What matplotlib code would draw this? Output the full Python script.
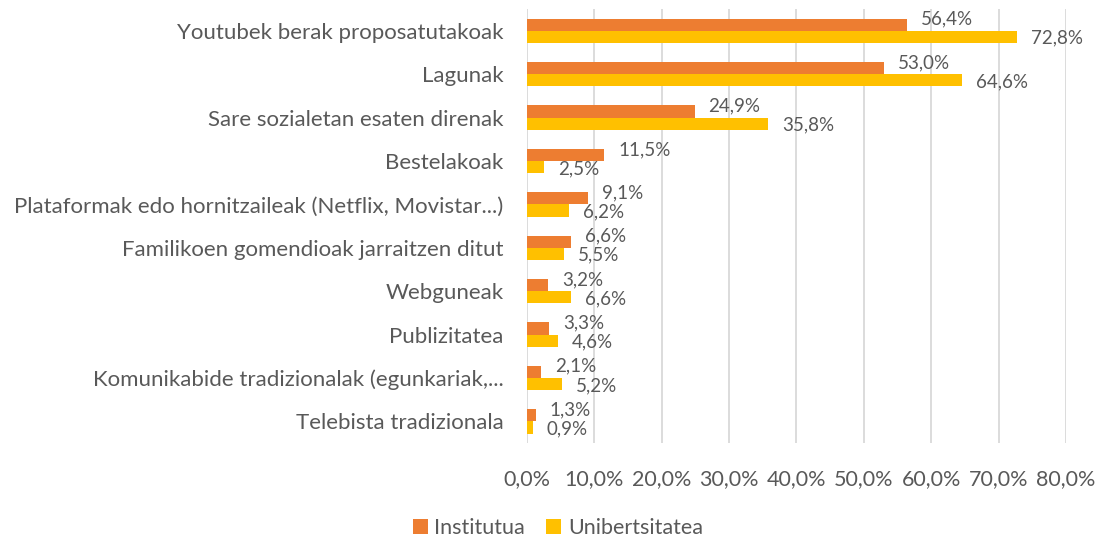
import numpy as np
import matplotlib.pyplot as plt

categorias = ['Youtubek berak proposatutakoak', 'Lagunak', 'Sare sozialetan esaten direnak',
              'Bestelakoak', 'Plataformak edo hornitzaileak (Netflix, Movistar...)',
              'Familikoen gomendioak jarraitzen ditut', 'Webguneak', 'Publizitatea',
              'Komunikabide tradizionalak (egunkariak,...', 'Telebista tradizionala']
institutua = [56.4, 53.0, 24.9, 11.5, 9.1, 6.6, 3.2, 3.3, 2.1, 1.3]
unibertsitatea = [72.8, 64.6, 35.8, 2.5, 6.2, 5.5, 6.6, 4.6, 5.2, 0.9]
ticks = [0, 10, 20, 30, 40, 50, 60, 70, 80]

gris = '#595959'
plt.rcParams['font.family'] = ['Lato', 'DejaVu Sans']

fig = plt.figure(figsize=(11, 5.39), dpi=100)
ax = fig.add_axes([0.479, 0.178, 0.49, 0.805])

y = np.arange(len(categorias))
h = 0.28
b1 = ax.barh(y - h / 2, institutua, height=h, color='#ED7D31', label='Institutua')
b2 = ax.barh(y + h / 2, unibertsitatea, height=h, color='#FFC000', label='Unibertsitatea')

for i in range(len(categorias)):
    ax.annotate(f'{institutua[i]:.1f}%'.replace('.', ','), (institutua[i], y[i] - h / 2),
                xytext=(10, 4), textcoords='offset points', ha='left', va='center',
                fontsize=13.5, color=gris)
    ax.annotate(f'{unibertsitatea[i]:.1f}%'.replace('.', ','), (unibertsitatea[i], y[i] + h / 2),
                xytext=(10, -1), textcoords='offset points', ha='left', va='center',
                fontsize=13.5, color=gris)

ax.set_xlim(0, 80)
ax.set_ylim(len(categorias) - 0.5, -0.5)
ax.set_xticks(ticks)
ax.set_xticklabels([f'{t:.1f}%'.replace('.', ',') for t in ticks], fontsize=15.5, color=gris)
ax.set_yticks(y)
ax.set_yticklabels(categorias, fontsize=16, color=gris)
ax.tick_params(length=0)
ax.tick_params(axis='y', pad=17)
ax.tick_params(axis='x', pad=19)
ax.xaxis.grid(True, color='#d9d9d9', linewidth=1.3)
ax.set_axisbelow(True)
for s in ax.spines.values():
    s.set_visible(False)

fig.legend(handles=[b1, b2], loc='lower center', bbox_to_anchor=(0.507, -0.034), ncol=2,
           frameon=False, fontsize=15.5, labelcolor=gris, handlelength=0.7, handleheight=0.7,
           columnspacing=1.0, handletextpad=0.3)

fig.savefig('out.png', dpi=100)
